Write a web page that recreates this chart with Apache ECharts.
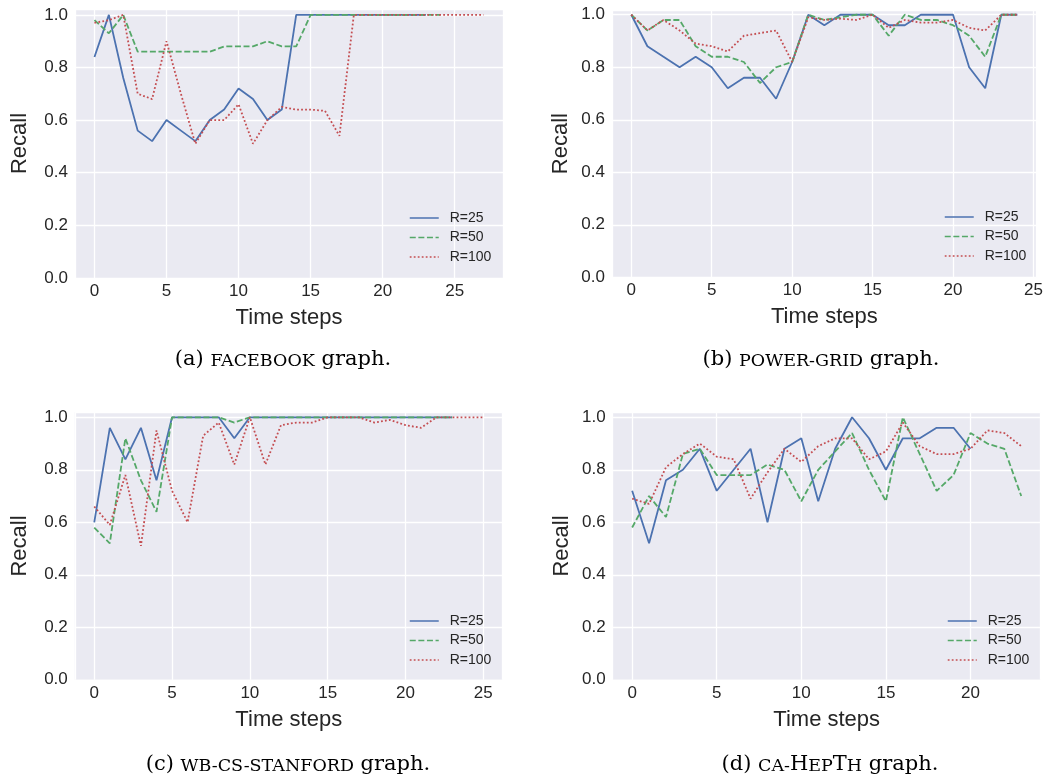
<!DOCTYPE html>
<html>
<head>
<meta charset="utf-8">
<title>Recall over time steps</title>
<script src="https://cdn.jsdelivr.net/npm/echarts@6/dist/echarts.min.js"></script>
<style>
  html, body { margin: 0; padding: 0; background: #ffffff; }
  #chart { width: 1048px; height: 781px; }
</style>
</head>
<body>
<div id="chart"></div>
<script>
var seriesNames = ['R=25', 'R=50', 'R=100'];

// (a) facebook
var facebookR25 = [0.84, 1.0, 0.76, 0.56, 0.52, 0.60, 0.56, 0.52, 0.60, 0.64, 0.72, 0.68, 0.60, 0.64, 1.0, 1.0, 1.0, 1.0, 1.0, 1.0, 1.0, 1.0, 1.0, 1.0];
var facebookR50 = [0.98, 0.93, 1.0, 0.86, 0.86, 0.86, 0.86, 0.86, 0.86, 0.88, 0.88, 0.88, 0.90, 0.88, 0.88, 1.0, 1.0, 1.0, 1.0, 1.0, 1.0, 1.0, 1.0, 1.0, 1.0];
var facebookR100 = [0.97, 0.98, 1.0, 0.70, 0.68, 0.90, 0.70, 0.51, 0.60, 0.60, 0.66, 0.51, 0.60, 0.65, 0.64, 0.64, 0.635, 0.54, 1.0, 1.0, 1.0, 1.0, 1.0, 1.0, 1.0, 1.0, 1.0, 1.0];

// (b) power grid
var powerR25 = [1.0, 0.88, 0.84, 0.80, 0.84, 0.80, 0.72, 0.76, 0.76, 0.68, 0.82, 1.0, 0.96, 1.0, 1.0, 1.0, 0.96, 0.96, 1.0, 1.0, 1.0, 0.80, 0.72, 1.0, 1.0];
var powerR50 = [1.0, 0.94, 0.98, 0.98, 0.88, 0.84, 0.84, 0.82, 0.74, 0.80, 0.82, 1.0, 0.98, 0.99, 1.0, 1.0, 0.92, 1.0, 0.98, 0.98, 0.96, 0.92, 0.84, 1.0, 1.0];
var powerR100 = [1.0, 0.94, 0.98, 0.94, 0.89, 0.88, 0.86, 0.92, 0.93, 0.94, 0.82, 0.99, 0.98, 0.985, 0.98, 1.0, 0.95, 0.98, 0.97, 0.97, 0.98, 0.95, 0.94, 1.0, 1.0];

// (c) wb-cs-stanford
var stanfordR25 = [0.60, 0.96, 0.84, 0.96, 0.76, 1.0, 1.0, 1.0, 1.0, 0.92, 1.0, 1.0, 1.0, 1.0, 1.0, 1.0, 1.0, 1.0, 1.0, 1.0, 1.0, 1.0, 1.0, 1.0];
var stanfordR50 = [0.58, 0.52, 0.92, 0.76, 0.64, 1.0, 1.0, 1.0, 1.0, 0.98, 1.0, 1.0, 1.0, 1.0, 1.0, 1.0, 1.0, 1.0, 1.0, 1.0, 1.0, 1.0, 1.0, 1.0];
var stanfordR100 = [0.66, 0.59, 0.78, 0.51, 0.95, 0.72, 0.60, 0.93, 0.98, 0.82, 1.0, 0.82, 0.97, 0.98, 0.98, 1.0, 1.0, 1.0, 0.98, 0.99, 0.97, 0.96, 1.0, 1.0, 1.0, 1.0];

// (d) ca-hepth
var hepthR25 = [0.72, 0.52, 0.76, 0.80, 0.88, 0.72, 0.80, 0.88, 0.60, 0.88, 0.92, 0.68, 0.88, 1.0, 0.92, 0.80, 0.92, 0.92, 0.96, 0.96, 0.88];
var hepthR50 = [0.58, 0.70, 0.62, 0.86, 0.88, 0.78, 0.78, 0.78, 0.82, 0.80, 0.68, 0.80, 0.87, 0.94, 0.80, 0.68, 1.0, 0.86, 0.72, 0.78, 0.94, 0.90, 0.88, 0.70];
var hepthR100 = [0.69, 0.67, 0.81, 0.86, 0.90, 0.85, 0.84, 0.69, 0.79, 0.88, 0.83, 0.89, 0.92, 0.92, 0.84, 0.87, 0.98, 0.89, 0.86, 0.86, 0.88, 0.95, 0.94, 0.89];

// caption pieces: [text, 'n' normal | 's' small caps]
var captionA = [['(a) ', 'n'], ['FACEBOOK', 's'], [' graph.', 'n']];
var captionB = [['(b) ', 'n'], ['POWER-GRID', 's'], [' graph.', 'n']];
var captionC = [['(c) ', 'n'], ['WB-CS-STANFORD', 's'], [' graph.', 'n']];
var captionD = [['(d) ', 'n'], ['CA-', 's'], ['H', 'n'], ['EP', 's'], ['T', 'n'], ['H', 's'], [' graph.', 'n']];

var colors = ['#4C72B0', '#55A868', '#C44E52'];
var dashes = ['solid', [6, 2.6], [1.8, 2.2]];
var sans = 'Liberation Sans, Arial, sans-serif';
var serif = 'DejaVu Serif, serif';
var ink = '#262626';

var panels = [
  { data: [facebookR25, facebookR50, facebookR100], caption: captionA,
    grid: { left: 75, top: 9, width: 428, height: 268.9 }, xr: [-1.35, 28.35], yMax: 1.0224,
    nameGap: 44, legend: { left: 409, top: 211 }, cap: [283, 356] },
  { data: [powerR25, powerR50, powerR100], caption: captionB,
    grid: { left: 612, top: 10, width: 424.7, height: 267.3 }, xr: [-1.2, 25.2], yMax: 1.018,
    nameGap: 40, legend: { left: 944, top: 210 }, cap: [821, 356] },
  { data: [stanfordR25, stanfordR50, stanfordR100], caption: captionC,
    grid: { left: 74.8, top: 412.3, width: 427.9, height: 267.5 }, xr: [-1.25, 26.25], yMax: 1.019,
    nameGap: 44, legend: { left: 409, top: 614 }, cap: [288, 761] },
  { data: [hepthR25, hepthR50, hepthR100], caption: captionD,
    grid: { left: 612.7, top: 412.3, width: 428, height: 267.5 }, xr: [-1.15, 24.15], yMax: 1.019,
    nameGap: 40, legend: { left: 947, top: 614 }, cap: [830, 761] }
];

var chart = echarts.init(document.getElementById('chart'), null, { renderer: 'canvas' });

var grids = [], xAxes = [], yAxes = [], series = [], legends = [], graphics = [];

panels.forEach(function(p, idx) {
  grids.push({
    left: p.grid.left, top: p.grid.top, width: p.grid.width, height: p.grid.height,
    show: true, backgroundColor: '#EAEAF2', borderWidth: 0, containLabel: false
  });
  xAxes.push({
    type: 'value', gridIndex: idx, min: p.xr[0], max: p.xr[1],
    minInterval: 5, maxInterval: 5,
    name: 'Time steps', nameLocation: 'middle', nameGap: 29,
    nameTextStyle: { fontFamily: sans, fontSize: 22, color: ink },
    axisLine: { show: false }, axisTick: { show: false },
    axisLabel: { showMinLabel: false, showMaxLabel: false, margin: 5,
      fontFamily: sans, fontSize: 17, color: ink },
    splitLine: { show: true, lineStyle: { color: '#ffffff', width: 1.3 } }
  });
  yAxes.push({
    type: 'value', gridIndex: idx, min: 0, max: p.yMax, interval: 0.2,
    name: 'Recall', nameLocation: 'middle', nameGap: p.nameGap,
    nameTextStyle: { fontFamily: sans, fontSize: 22, color: ink },
    axisLine: { show: false }, axisTick: { show: false },
    axisLabel: { showMaxLabel: false, margin: 7, fontFamily: sans, fontSize: 17, color: ink,
      formatter: function(v) { return v.toFixed(1); } },
    splitLine: { show: true, lineStyle: { color: '#ffffff', width: 1.3 } }
  });
  p.data.forEach(function(values, k) {
    series.push({
      type: 'line', name: seriesNames[k], xAxisIndex: idx, yAxisIndex: idx,
      data: values.map(function(v, i) { return [i, v]; }),
      symbol: 'none', animation: false, z: 2 + k,
      lineStyle: { color: colors[k], width: 1.8, type: dashes[k] },
      itemStyle: { color: colors[k] }
    });
  });
  legends.push({
    data: seriesNames, orient: 'vertical', left: p.legend.left, top: p.legend.top,
    itemWidth: 29, itemHeight: 14, itemGap: 5.5, padding: 0,
    itemStyle: { opacity: 0 },
    lineStyle: { width: 1.5 },
    textStyle: { fontFamily: sans, fontSize: 14, color: ink, padding: [0, 0, 0, 6] }
  });
  var text = p.caption.map(function(part) { return '{' + part[1] + '|' + part[0] + '}'; }).join('');
  graphics.push({
    type: 'text', x: p.cap[0], y: p.cap[1],
    style: {
      text: text, align: 'center', verticalAlign: 'middle',
      rich: {
        n: { fontFamily: serif, fontSize: 21, color: '#111', lineHeight: 28, verticalAlign: 'bottom' },
        s: { fontFamily: serif, fontSize: 17.5, color: '#111', lineHeight: 28, verticalAlign: 'bottom' }
      }
    }
  });
});

chart.setOption({
  animation: false,
  backgroundColor: '#ffffff',
  grid: grids,
  xAxis: xAxes,
  yAxis: yAxes,
  legend: legends,
  series: series,
  graphic: graphics
});

window.addEventListener('resize', function() { chart.resize(); });
</script>
</body>
</html>
